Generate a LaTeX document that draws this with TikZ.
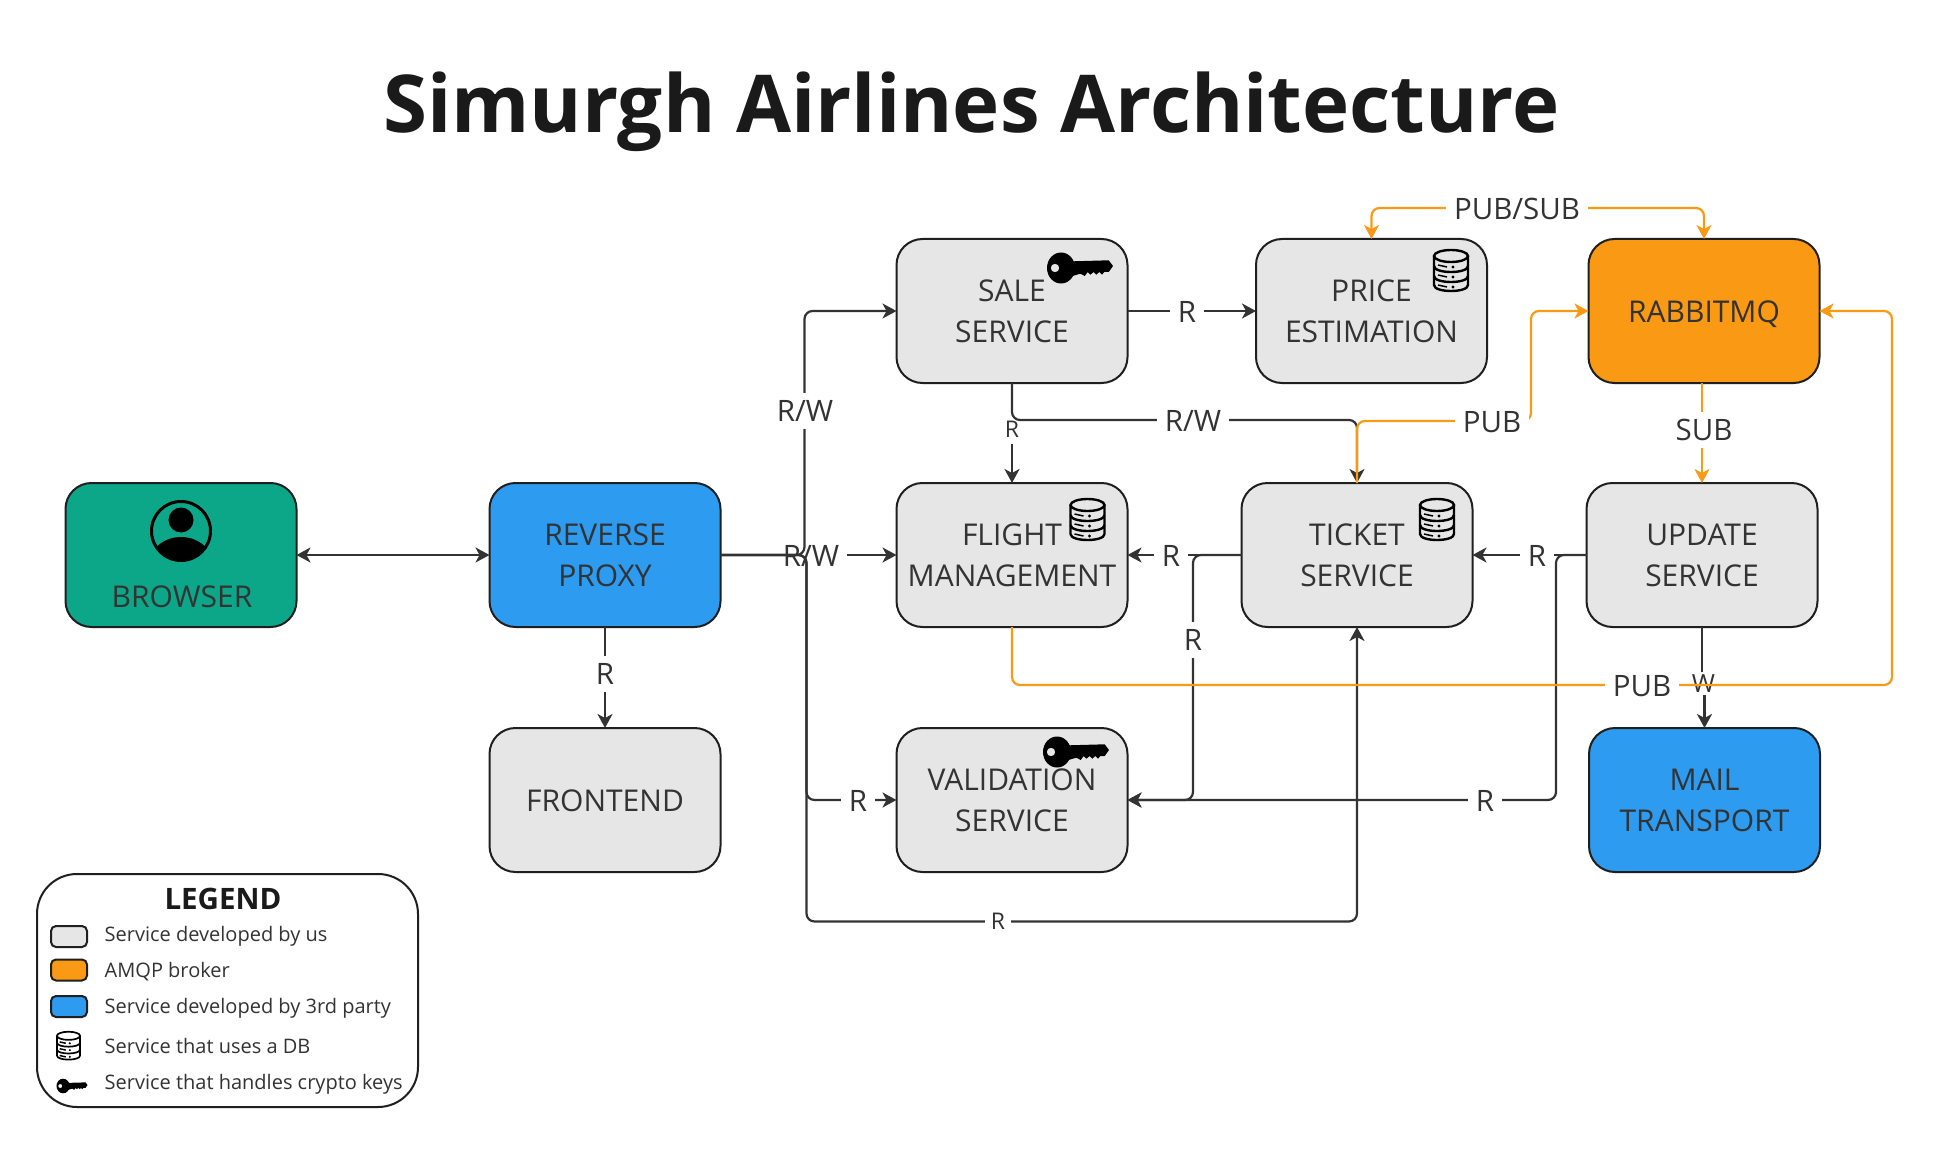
\documentclass[tikz,border=0pt]{standalone}
\usepackage{fontspec}
\setmainfont{Open Sans}
\usetikzlibrary{arrows.meta}
\definecolor{ink}{HTML}{333333}
\definecolor{edgeink}{HTML}{1F1F1F}
\definecolor{titleink}{HTML}{1A1A1A}
\definecolor{ora}{HTML}{FA9A14}
\definecolor{blu}{HTML}{2D9BF0}
\definecolor{grn}{HTML}{0CA789}
\definecolor{gry}{HTML}{E6E6E6}
\newcommand{\fpx}[2]{\fontsize{#1pt}{#2pt}\selectfont}
\newcommand{\tipdark}{Stealth[length=14pt,width=15pt,inset=4pt]}
\newcommand{\btxt}[1]{\raisebox{-3.2pt}[\height][\depth]{\begin{tabular}{@{}c@{}}#1\end{tabular}}}
\tikzset{
  box/.style={draw=edgeink,line width=2pt,rounded corners=26pt,minimum width=231pt,minimum height=144pt,
     inner sep=0pt,outer sep=0pt,text=ink,font=\fpx{30}{41}},
  svc/.style={box,fill=gry},
  ext/.style={box,fill=blu},
  brk/.style={box,fill=ora},
  swatch/.style={draw=edgeink,line width=2pt,rounded corners=5pt,minimum width=36pt,minimum height=21pt,inner sep=0pt,outer sep=0pt},
  lgtext/.style={anchor=west,inner sep=0pt,text=ink,font=\fpx{20}{24}},
  conn/.style={draw=ink,line width=2.2pt,rounded corners=8pt,-{\tipdark}},
  oconn/.style={draw=ora,line width=2.2pt,rounded corners=8pt,-{\tipdark}},
  lbl/.style={fill=white,inner xsep=8pt,inner ysep=8pt,text=ink,font=\fpx{29.5}{30},text height=20.5pt,text depth=0pt},
  slbl/.style={lbl,font=\fpx{23}{23},text height=16.5pt,inner xsep=3pt,inner ysep=7pt},
  tlbl/.style={lbl,font=\fpx{25}{25},text height=17pt,inner xsep=6pt,inner ysep=3pt},
  dbicon/.pic={
    \begin{scope}[x=1pt,y=1pt]
      \draw (0,15) ellipse (17 and 6);
      \draw (-17,15) -- (-17,-14) .. controls (-17,-22) and (17,-22) .. (17,-14) -- (17,15);
      \draw (-17,5) .. controls (-17,-3) and (17,-3) .. (17,5);
      \draw (-17,-5) .. controls (-17,-13) and (17,-13) .. (17,-5);
      \foreach \yy in {4,-6,-16}{
        \draw[line width=1.5pt] (-13,\yy+2) -- (-4,\yy);
        \fill (2,\yy) circle (1.7);
      }
    \end{scope}
  },
  keyicon/.pic={
    \begin{scope}[x=1pt,y=1pt]
      \fill[even odd rule] (-19,0) ellipse (14 and 15.5) (-25,0) circle (4.3);
      \fill (-14,6.5) -- (28.7,7.7) -- (33,2) -- (28.7,-4) -- (24.3,-4) -- (22,-6.7) -- (19.3,-4) -- (16.3,-6.7)
        -- (13.7,-4) -- (10.3,-6.7) -- (7.7,-4) -- (4.7,-8) -- (0.3,-5.7) -- (-11,-9) -- cycle;
    \end{scope}
  },
}
\begin{document}
\begin{tikzpicture}[x=1pt,y=-1pt]
\useasboundingbox (0,0) rectangle (1941,1158);
\fill[white] (0,0) rectangle (1941,1158);

\node[text=titleink,font=\bfseries\fpx{79.8}{80},inner sep=0pt] (title) at (971.5,112) {Simurgh Airlines Architecture};

% boxes
\node[box,fill=grn] (browser) at (181,555) {};
\node[text=ink,font=\fpx{30}{41},inner sep=0pt] (browsertext) at (182,597) {BROWSER};
\node[ext] (proxy) at (605,555) {\btxt{REVERSE\\PROXY}};
\node[svc] (front) at (605,800) {\btxt{FRONTEND}};
\node[svc] (sale) at (1012,311) {\btxt{SALE\\SERVICE}};
\node[svc] (price) at (1371.5,311) {\btxt{PRICE\\ESTIMATION}};
\node[brk] (rabbit) at (1704,311) {\btxt{RABBITMQ}};
\node[svc] (flight) at (1012,555) {\btxt{FLIGHT\\MANAGEMENT}};
\node[svc] (ticket) at (1357,555) {\btxt{TICKET\\SERVICE}};
\node[svc] (update) at (1702,555) {\btxt{UPDATE\\SERVICE}};
\node[svc] (valid) at (1012,800) {\btxt{VALIDATION\\SERVICE}};
\node[ext] (mail) at (1704.5,800) {\btxt{MAIL\\TRANSPORT}};

% icons
\begin{scope}[shift={(181,531)}]
  \begin{scope}
    \clip (0,0) circle (29pt);
    \fill (0,36) ellipse (33pt and 30pt);
  \end{scope}
  \draw[line width=3pt] (0,0) circle (29.5pt);
  \fill (0,-11) circle (12.5pt);
\end{scope}
\pic[line width=2.4pt] at (1451,271) {dbicon};
\pic[line width=2.4pt] at (1087.5,520) {dbicon};
\pic[line width=2.4pt] at (1437,520) {dbicon};
\pic at (1080,268) {keyicon};
\pic at (1076,752) {keyicon};

% dark connectors
\draw[conn,{\tipdark}-{\tipdark}] (browser.east) -- (proxy.west);
\draw[conn] (proxy.south) -- (front.north);
\node[lbl] (lrf) at (605,674) {R};
\draw[conn] (proxy.east) -- (flight.west);
\node[lbl] (lpf) at (811,556) {R/W};
\draw[conn] (proxy.east) -- ++(84,0) |- (sale.west);
\node[lbl,inner ysep=8pt] (lps) at (805,411) {R/W};
\draw[conn] (proxy.east) -- ++(86,0) |- (valid.west);
\node[lbl] (lpv) at (858,801) {R};
\draw[conn] (proxy.east) -- ++(86,0) |- (1357,921.5) -- (ticket.south);
\node[slbl,inner xsep=6pt] (lpt) at (998,921.5) {R};

\draw[conn] (sale.east) -- (price.west);
\node[lbl] (lsp) at (1187,312) {R};
\draw[conn] (sale.south) -- (flight.north);
\node[slbl] (lsf) at (1012,429) {R};
\draw[conn] (sale.south) |- (1200,420) -| (ticket.north);
\node[lbl] (lst) at (1193,421) {R/W};

\draw[conn] (ticket.west) -- (flight.east);
\node[lbl] (ltf) at (1171,556) {R};
\draw[conn] (ticket.west) -- (1193,555) |- (valid.east);
\node[lbl] (ltv) at (1193,640) {R};
\draw[conn] (update.west) -- (ticket.east);
\node[lbl] (lut) at (1537,556) {R};
\draw[conn] (update.west) -- (1556,555) |- (valid.east);
\node[lbl] (luv) at (1485,801) {R};
\draw[conn,rounded corners=0pt] (update.south) -- (1702,683) -- (1704.5,683) -- (mail.north);
\node[tlbl] (lum) at (1703.5,683.5) {W};

% orange connectors
\draw[oconn,{\tipdark}-{\tipdark}] (price.north) |- (1500,208) -| (rabbit.north);
\node[lbl] (lpr) at (1517,209) {PUB/SUB};
\draw[oconn] (ticket.north) |- (1531,421) |- (rabbit.west);
\node[lbl] (ltr) at (1492,422) {PUB};
\draw[oconn] (update.north |- rabbit.south) -- (update.north);
\node[lbl] (lru) at (1704,430) {SUB};
\draw[oconn] (flight.south) |- (1892,685) |- (rabbit.east);
\node[lbl] (lfr) at (1642,686) {PUB};

% legend
\node[draw=edgeink,line width=2pt,rounded corners=40pt,minimum width=381pt,minimum height=233pt,inner sep=0pt,outer sep=0pt,fill=white] (legend) at (227.5,990.5) {};
\node[text=titleink,font=\bfseries\fpx{29.5}{30},inner sep=0pt] (lgtitle) at (223,899) {LEGEND};
\node[swatch,fill=gry] (sw1) at (69,936.5) {};
\node[swatch,fill=ora] (sw2) at (69,970) {};
\node[swatch,fill=blu] (sw3) at (69,1006.5) {};
\pic[scale=.68,line width=1.7pt] at (68.5,1046) {dbicon};
\pic[scale=.47] at (72,1086) {keyicon};
\node[lgtext] (lg1) at (104.5,936) {Service developed by us};
\node[lgtext] (lg2) at (104.5,972) {AMQP broker};
\node[lgtext] (lg3) at (104.5,1008) {Service developed by 3rd party};
\node[lgtext] (lg4) at (104.5,1046) {Service that uses a DB};
\node[lgtext] (lg5) at (104.5,1084) {Service that handles crypto keys};
\end{tikzpicture}
\end{document}
